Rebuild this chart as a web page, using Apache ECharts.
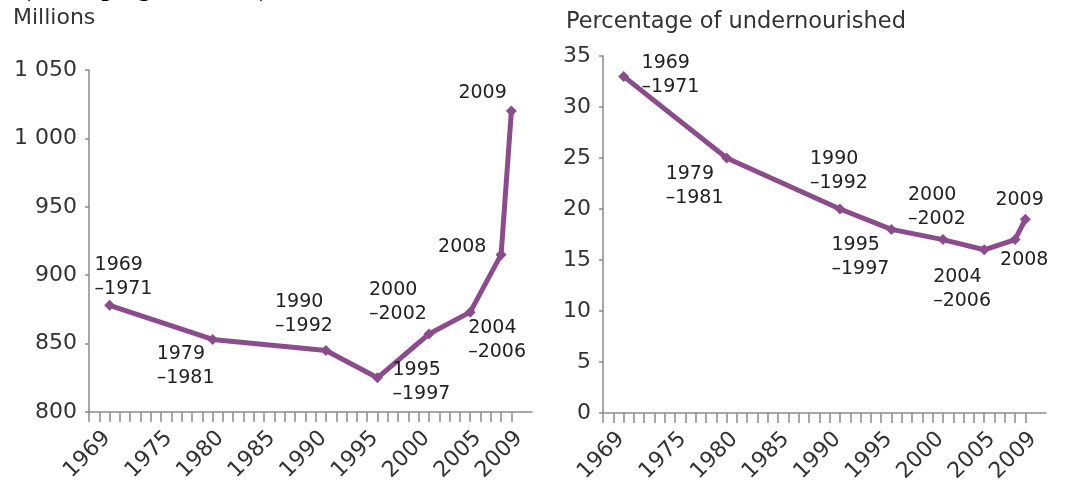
<!DOCTYPE html>
<html>
<head>
<meta charset="utf-8">
<script src="https://cdn.jsdelivr.net/npm/echarts@6/dist/echarts.min.js"></script>
<style>
html,body{margin:0;padding:0;background:#fff;}
#c{width:1065px;height:487px;}
</style>
</head>
<body>
<div id="c"></div>
<script>
// ---- data ----
const periods = ['1969\n–1971', '1979\n–1981', '1990\n–1992', '1995\n–1997', '2000\n–2002', '2004\n–2006', '2008', '2009'];
const periodYears = [1970, 1980, 1991, 1996, 2001, 2005, 2008, 2009];
const millions = [878, 853, 845, 825, 857, 873, 915, 1020];
const percentUndernourished = [33, 25, 20, 18, 17, 16, 17, 19];
const xTickLabels = [1969, 1975, 1980, 1985, 1990, 1995, 2000, 2005, 2009];
const leftTitle = 'Millions';
const rightTitle = 'Percentage of undernourished';
const cutTitle = '(developing countries)';

// ---- layout / style ----
const leftLabelOffsets = [[-15, -52], [-56, 3], [-51, -60], [15, -20], [-60, -56], [-2, 4], [-63, -20], [-53, -30]];
const rightLabelOffsets = [[18, -25], [-61, 4], [-30, -62], [-60, 4], [-35, -57], [-51, 15], [-15, 8], [-30, -31]];
const yearTicks = [];
for (let y = 1968; y <= 2009; y++) yearTicks.push(y);

const FONT = 'DejaVu Sans';
const TXT = '#333';
const AXIS = '#8a8a8a';
const LINE = '#8b4c8c';

function buildData(values, offsets) {
  return values.map((v, i) => ({
    name: periods[i],
    value: [periodYears[i], v],
    label: { offset: offsets[i] }
  }));
}

function xAxis(gridIndex) {
  return {
    type: 'value', gridIndex, min: 1968, max: 2011,
    splitLine: { show: false },
    axisLine: { show: true, lineStyle: { color: AXIS, width: 1.5 } },
    axisTick: { show: true, customValues: yearTicks, length: 10, lineStyle: { color: AXIS, width: 1.5 } },
    axisLabel: {
      customValues: xTickLabels, rotate: 45, margin: 15,
      align: 'right', verticalAlign: 'top',
      fontFamily: FONT, fontSize: 22, color: TXT,
      formatter: v => String(v)
    }
  };
}

function yAxis(gridIndex, min, max, interval, fmt) {
  return {
    type: 'value', gridIndex, min, max, interval,
    splitLine: { show: false },
    axisLine: { show: true, lineStyle: { color: AXIS, width: 1.5 } },
    axisTick: { show: true, length: 4, lineStyle: { color: AXIS, width: 1.5 } },
    axisLabel: { margin: 12, fontFamily: FONT, fontSize: 22, color: TXT, formatter: fmt }
  };
}

function series(xi, values, offsets) {
  return {
    type: 'line', xAxisIndex: xi, yAxisIndex: xi,
    data: buildData(values, offsets),
    symbol: 'diamond', symbolSize: 11,
    lineStyle: { color: LINE, width: 5 },
    itemStyle: { color: LINE },
    clip: false,
    label: {
      show: true, position: 'inside', align: 'left', verticalAlign: 'top',
      fontFamily: FONT, fontSize: 19, lineHeight: 24, color: '#222',
      formatter: p => p.name
    },
    emphasis: { disabled: true },
    animation: false
  };
}

const chart = echarts.init(document.getElementById('c'), null, { renderer: 'canvas' });
chart.setOption({
  animation: false,
  backgroundColor: '#fff',
  title: [
    { text: cutTitle, left: 17, top: -29, textStyle: { fontFamily: 'Liberation Serif', fontWeight: 'bold', fontSize: 26, color: '#000' } },
    { text: leftTitle, left: 8, top: 2, textStyle: { fontFamily: FONT, fontWeight: 'normal', fontSize: 22, color: TXT } },
    { text: rightTitle, left: 561, top: 6, textStyle: { fontFamily: FONT, fontWeight: 'normal', fontSize: 22.5, color: TXT } }
  ],
  grid: [
    { left: 89, top: 70, width: 443, height: 342 },
    { left: 603, top: 56, width: 443, height: 357 }
  ],
  xAxis: [xAxis(0), xAxis(1)],
  yAxis: [
    yAxis(0, 800, 1050, 50, v => v >= 1000 ? '1 ' + String(v).slice(1) : String(v)),
    yAxis(1, 0, 35, 5, v => String(v))
  ],
  series: [
    series(0, millions, leftLabelOffsets),
    series(1, percentUndernourished, rightLabelOffsets)
  ]
});
</script>
</body>
</html>
